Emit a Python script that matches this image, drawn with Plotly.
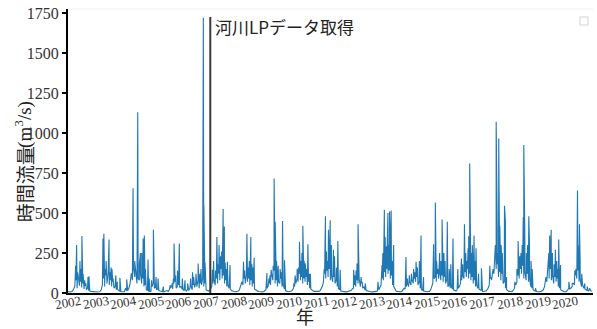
import plotly.graph_objects as go
import pandas as pd

# ---------------- data ----------------
years = list(range(2002, 2021))
year_labels = [str(y) for y in years]
y_ticks = [0, 250, 500, 750, 1000, 1250, 1500, 1750]

# semi-monthly background flow (1st and 16th of each month), m3/s
baseline_values = [
    [8, 6, 7, 9, 12, 25, 40, 80, 30, 90, 45, 70, 35, 60, 25, 45, 20, 30, 15, 12, 10, 9, 8, 7],       # 2002
    [7, 6, 6, 8, 10, 20, 50, 90, 40, 110, 60, 120, 50, 80, 40, 70, 30, 40, 20, 25, 15, 12, 9, 8],    # 2003
    [7, 8, 30, 12, 15, 30, 60, 120, 80, 150, 100, 130, 60, 90, 80, 120, 60, 90, 40, 50, 20, 15, 10, 9],  # 2004
    [9, 40, 60, 30, 35, 20, 25, 15, 12, 10, 9, 8, 10, 12, 15, 10, 20, 30, 40, 25, 60, 70, 30, 40],   # 2005
    [50, 35, 40, 25, 20, 15, 20, 12, 25, 15, 30, 40, 20, 50, 35, 60, 40, 80, 30, 60, 50, 90, 40, 60],  # 2006
    [20, 15, 12, 20, 25, 40, 60, 80, 50, 90, 60, 120, 80, 150, 90, 110, 60, 80, 40, 50, 30, 25, 15, 12],  # 2007
    [9, 8, 8, 9, 12, 20, 40, 70, 50, 90, 60, 110, 70, 90, 50, 80, 40, 60, 25, 20, 12, 10, 9, 8],     # 2008
    [8, 7, 10, 15, 20, 30, 45, 60, 50, 120, 80, 140, 60, 80, 40, 70, 60, 90, 40, 50, 25, 15, 10, 8],  # 2009
    [8, 9, 12, 20, 30, 40, 60, 90, 70, 120, 80, 100, 60, 90, 70, 100, 50, 70, 30, 25, 15, 12, 10, 9],  # 2010
    [8, 8, 10, 15, 25, 40, 70, 120, 90, 140, 100, 150, 80, 110, 70, 100, 60, 80, 40, 30, 20, 12, 10, 9],  # 2011
    [8, 7, 7, 8, 9, 10, 15, 25, 30, 50, 40, 80, 60, 90, 40, 60, 30, 40, 20, 15, 12, 10, 9, 8],       # 2012
    [7, 7, 8, 8, 10, 15, 20, 40, 50, 90, 80, 130, 100, 150, 120, 140, 90, 110, 50, 40, 20, 12, 10, 8],  # 2013
    [8, 8, 10, 20, 30, 25, 40, 60, 40, 70, 50, 80, 60, 90, 70, 100, 50, 70, 30, 25, 15, 12, 10, 9],  # 2014
    [8, 9, 10, 20, 40, 60, 90, 100, 70, 120, 90, 130, 80, 110, 70, 100, 60, 80, 40, 50, 30, 40, 25, 20],  # 2015
    [15, 12, 20, 30, 40, 60, 80, 110, 90, 130, 100, 150, 90, 120, 80, 100, 60, 80, 40, 50, 30, 25, 20, 15],  # 2016
    [10, 9, 10, 12, 20, 30, 50, 90, 80, 150, 120, 200, 150, 180, 100, 130, 80, 120, 60, 70, 30, 20, 12, 10],  # 2017
    [9, 8, 10, 20, 30, 50, 70, 110, 90, 150, 120, 170, 90, 130, 80, 120, 70, 90, 40, 30, 20, 15, 10, 9],  # 2018
    [8, 7, 8, 10, 15, 20, 40, 80, 70, 120, 90, 150, 80, 110, 60, 100, 70, 90, 40, 30, 20, 15, 10, 8],  # 2019
    [8, 10, 20, 30, 25, 30, 40, 60, 50, 110, 90, 140, 70, 90, 40, 50, 30, 25, 20, 15, 12, 20, 15, 10],  # 2020
]

# major flood peaks
peak_dates = [
    "2002-04-12", "2002-04-25", "2002-06-08", "2002-07-04", "2002-09-22", "2002-10-05",
    "2003-04-08", "2003-04-20", "2003-06-10", "2003-06-27", "2003-08-05", "2003-09-25", "2003-11-18",
    "2004-02-16", "2004-05-01", "2004-05-10", "2004-07-11", "2004-09-02", "2004-09-20", "2004-10-06", "2004-11-24",
    "2005-02-03", "2005-03-10", "2005-04-05", "2005-09-13", "2005-11-03", "2005-11-25", "2005-12-18",
    "2006-01-12", "2006-02-20", "2006-03-28", "2006-08-20", "2006-09-17", "2006-11-25", "2006-12-02", "2006-12-17",
    "2007-03-25", "2007-05-23", "2007-06-21", "2007-08-14", "2007-08-30", "2007-10-09", "2007-11-13",
    "2008-05-09", "2008-06-23", "2008-07-10", "2008-08-14", "2008-09-27",
    "2009-03-15", "2009-05-10", "2009-06-18", "2009-07-02", "2009-10-07", "2009-11-02",
    "2010-03-22", "2010-04-18", "2010-05-19", "2010-07-02", "2010-08-03", "2010-09-07", "2010-10-10",
    "2011-04-27", "2011-06-06", "2011-06-29", "2011-08-11", "2011-10-08", "2011-11-08",
    "2012-05-04", "2012-06-17", "2012-07-01", "2012-10-04",
    "2013-03-21", "2013-05-14", "2013-06-14", "2013-07-10", "2013-07-31", "2013-08-22", "2013-09-12", "2013-10-15",
    "2014-03-27", "2014-06-06", "2014-08-07", "2014-10-12", "2014-11-14",
    "2015-03-27", "2015-04-19", "2015-07-17", "2015-09-24", "2015-12-08",
    "2016-02-10", "2016-03-29", "2016-05-08", "2016-06-25", "2016-07-03", "2016-07-16", "2016-09-12", "2016-10-08", "2016-12-18",
    "2017-04-08", "2017-07-01", "2017-08-04", "2017-08-18", "2017-10-19", "2017-10-31",
    "2018-03-04", "2018-04-17", "2018-05-08", "2018-06-24", "2018-07-01", "2018-09-05", "2018-09-14", "2018-12-03",
    "2019-05-15", "2019-06-09", "2019-06-28", "2019-08-23", "2019-10-06", "2019-10-30",
    "2020-02-17", "2020-04-02", "2020-05-05", "2020-06-10", "2020-06-24", "2020-07-06", "2020-10-16", "2020-11-16",
]
peak_values = [
    170, 300, 200, 356, 100, 105,
    340, 370, 120, 335, 150, 110, 95,
    85, 300, 655, 1130, 250, 340, 360, 210,
    395, 100, 90, 50, 310, 110, 140,
    310, 90, 80, 120, 185, 1720, 550, 190,
    145, 350, 300, 525, 415, 195, 175,
    195, 370, 160, 350, 220,
    125, 145, 715, 445, 450, 205,
    110, 150, 320, 420, 185, 305, 120,
    480, 395, 455, 270, 325, 145,
    145, 185, 430, 60,
    70, 175, 520, 290, 500, 510, 515, 300,
    225, 120, 195, 360, 100,
    305, 565, 460, 445, 340,
    150, 215, 430, 280, 355, 810, 360, 280, 155,
    170, 1070, 965, 420, 545, 445,
    70, 325, 230, 475, 925, 480, 325, 30,
    205, 360, 395, 270, 335, 175,
    70, 60, 140, 640, 220, 430, 40, 30,
]

# smaller freshets filling the wet seasons
minor_dates = [
    "2002-05-10", "2002-05-20", "2002-06-20", "2002-07-20", "2002-08-10", "2002-08-25",
    "2003-05-05", "2003-05-20", "2003-07-10", "2003-07-25", "2003-08-20", "2003-10-15",
    "2004-04-20", "2004-06-01", "2004-06-20", "2004-08-01", "2004-08-15", "2004-10-20", "2004-12-10",
    "2005-01-10", "2005-06-15", "2005-10-10", "2005-10-25",
    "2006-05-01", "2006-06-10", "2006-07-05", "2006-07-20", "2006-10-10", "2006-10-25",
    "2007-04-10", "2007-05-05", "2007-06-05", "2007-07-10", "2007-07-25", "2007-09-10", "2007-09-25",
    "2008-04-10", "2008-05-25", "2008-07-25", "2008-08-28", "2008-09-10",
    "2009-04-10", "2009-04-25", "2009-06-05", "2009-07-20", "2009-08-10", "2009-09-05", "2009-09-20",
    "2010-03-05", "2010-05-05", "2010-06-05", "2010-06-20", "2010-07-20", "2010-08-20", "2010-09-25",
    "2011-04-10", "2011-05-10", "2011-05-25", "2011-07-15", "2011-08-25", "2011-09-20",
    "2012-05-20", "2012-06-05", "2012-07-15", "2012-08-10", "2012-08-25",
    "2013-05-25", "2013-06-25", "2013-07-20", "2013-08-05", "2013-09-01", "2013-09-25",
    "2014-04-15", "2014-05-10", "2014-07-05", "2014-07-20", "2014-08-25", "2014-09-20",
    "2015-05-05", "2015-05-25", "2015-06-15", "2015-07-01", "2015-08-10", "2015-08-25", "2015-10-20", "2015-11-10",
    "2016-04-15", "2016-05-25", "2016-06-10", "2016-08-05", "2016-08-20", "2016-09-25", "2016-11-10",
    "2017-04-25", "2017-05-20", "2017-06-10", "2017-06-20", "2017-07-15", "2017-07-20", "2017-09-05", "2017-09-20", "2017-11-15",
    "2018-04-01", "2018-05-25", "2018-06-10", "2018-07-15", "2018-08-05", "2018-08-20", "2018-10-05", "2018-10-20",
    "2019-04-20", "2019-05-28", "2019-06-20", "2019-07-15", "2019-08-05", "2019-09-10", "2019-09-20",
    "2020-05-20", "2020-06-03", "2020-06-17", "2020-07-15", "2020-08-05", "2020-09-15",
]
minor_values = [
    130, 90, 150, 120, 80, 60,
    150, 200, 130, 160, 90, 70,
    120, 200, 150, 180, 250, 150, 90,
    80, 40, 60, 90,
    60, 90, 130, 100, 120, 150,
    200, 140, 180, 230, 260, 190, 150,
    60, 140, 200, 180, 160,
    90, 110, 170, 200, 170, 150, 130,
    60, 160, 200, 250, 200, 150, 120,
    150, 260, 200, 300, 230, 160,
    110, 140, 200, 100, 70,
    250, 350, 260, 300, 250, 200,
    90, 110, 150, 130, 160, 200,
    200, 150, 250, 200, 250, 200, 150, 180,
    180, 250, 200, 250, 300, 200, 120,
    100, 150, 200, 300, 400, 250, 300, 250, 100,
    150, 250, 300, 350, 250, 300, 200, 150,
    100, 250, 200, 250, 180, 200, 150,
    150, 250, 300, 200, 120, 60,
]

event_date = "2007-02-25"
event_top = 1725
event_label = "河川LPデータ取得"
y_title_jp = "時間流量"
y_title_unit = "(m<sup>3</sup>/s)"
x_title = "年"

# ---------------- build series ----------------
rows = []
for yr, vals in zip(years, baseline_values):
    for i, v in enumerate(vals):
        rows.append((pd.Timestamp(yr, i // 2 + 1, 1 if i % 2 == 0 else 16), v))
for d, v in zip(peak_dates + minor_dates, peak_values + minor_values):
    rows.append((pd.Timestamp(d), v))
df = pd.DataFrame(rows, columns=["date", "flow"]).sort_values("date", kind="stable")

fig = go.Figure()
fig.add_trace(go.Scatter(x=df["date"], y=df["flow"], mode="lines",
                         line=dict(color="#1f77b4", width=1.1), showlegend=False))

serif = "Liberation Serif, Times New Roman, serif"
cjk = "Noto Sans CJK JP"

fig.update_layout(
    template="none",
    width=597, height=329,
    margin=dict(l=68, r=4, t=9, b=36, autoexpand=False),
    plot_bgcolor="white", paper_bgcolor="white",
    showlegend=False,
)
fig.update_xaxes(
    type="date", range=["2002-01-01", "2021-01-01"],
    showticklabels=False, automargin=False,
    showline=True, linecolor="black", linewidth=2,
    showgrid=False, zeroline=False, ticks="",
)
fig.update_yaxes(
    range=[0, 1775], tickvals=y_ticks, ticktext=[str(v) for v in y_ticks],
    tickfont=dict(family=serif, size=16, color="#333"), automargin=False,
    ticklabeloverflow="allow",
    showline=True, linecolor="black", linewidth=2,
    ticks="outside", ticklen=4, tickwidth=1.5, tickcolor="black",
    showgrid=False, zeroline=False,
)

# year labels, rotated about their centres
for yr, lab in zip(years, year_labels):
    fig.add_annotation(x=f"{yr}-01-01", xref="x", y=-0.0317, yref="paper", text=lab,
                       textangle=-10, showarrow=False, xanchor="center", yanchor="middle",
                       font=dict(family=serif, size=13, color="#333"))

# event marker line
fig.add_shape(type="line", xref="x", yref="y", x0=event_date, x1=event_date,
              y0=0, y1=event_top, line=dict(color="#3a3a3a", width=2))
fig.add_annotation(x=event_date, xref="x", y=0.937, yref="paper", text=event_label,
                   showarrow=False, xanchor="left", yanchor="middle", xshift=3,
                   font=dict(family=cjk, size=17, color="#222"))

# faint top frame line and empty legend box
fig.add_shape(type="line", xref="paper", yref="paper", x0=0.003, x1=1, y0=1, y1=1,
              line=dict(color="#efefef", width=1))
fig.add_shape(type="rect", xref="paper", yref="paper", x0=0.9752, x1=0.9905,
              y0=0.9437, y1=0.9718, line=dict(color="#e2e2e2", width=1.5))

# axis titles
fig.add_annotation(x=-0.0838, xref="paper", y=0.383, yref="paper", text=y_title_jp,
                   textangle=-90, showarrow=False, xanchor="center", yanchor="middle",
                   font=dict(family=cjk, size=19, color="#222"))
fig.add_annotation(x=-0.0838, xref="paper", y=0.592, yref="paper", text=y_title_unit,
                   textangle=-90, showarrow=False, xanchor="center", yanchor="middle",
                   font=dict(family=serif, size=19, color="#222"))
fig.add_annotation(x=0.4514, xref="paper", y=-0.081, yref="paper", text=x_title,
                   showarrow=False, xanchor="center", yanchor="middle",
                   font=dict(family=cjk, size=18, color="#222"))

# remove the default page margin so the figure sits at the window's corner
fig.write_html("out.html", config={"displayModeBar": False},
               post_script="document.body.style.margin='0';")
